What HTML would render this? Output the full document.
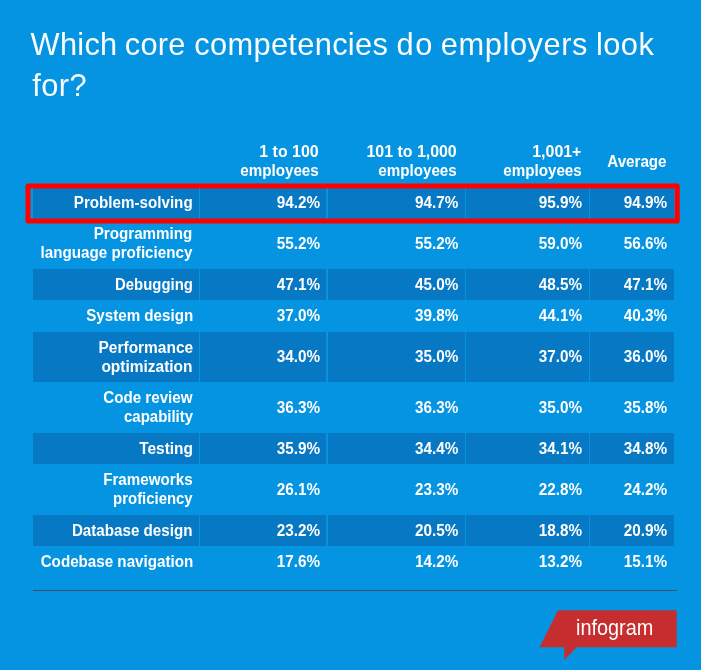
<!DOCTYPE html>
<html lang="en">
<head>
<meta charset="utf-8">
<title>Which core competencies do employers look for?</title>
<style>
html,body{margin:0;padding:0;}
body{width:701px;height:670px;background:#0594e2;overflow:hidden;position:relative;font-family:"Liberation Sans",sans-serif;}
.title{position:absolute;left:30.66px;top:24px;margin:0;font-weight:400;font-size:30.5px;line-height:41px;color:#fbfdff;white-space:nowrap;transform:translateX(-0.4px) scaleX(1.0096);transform-origin:0 0;letter-spacing:.4px;}
.title .w1{letter-spacing:0.25px;word-spacing:-1.47px;}
.title .w2{letter-spacing:0.25px;word-spacing:-0.14px;}
.title .w3{letter-spacing:0.32px;word-spacing:-0.68px;}
.title .w4{letter-spacing:1.6px;word-spacing:-3.17px;}
.title .w5{letter-spacing:0.57px;word-spacing:-1.31px;}
.title .w6{letter-spacing:0.5px;word-spacing:0px;}
.title .l2{margin-left:1.7px;}
.grid{position:absolute;left:33px;top:0;width:641px;height:670px;color:#fff;font-weight:700;font-size:16px;line-height:19px;}
.row{position:absolute;left:0;width:641px;}
.row.dark{background:#0778c4;}
.c{position:absolute;top:0;height:100%;display:flex;align-items:center;justify-content:flex-end;text-align:right;white-space:nowrap;}
.c span{display:block;position:relative;top:-0.5px;transform-origin:100% 50%;}
.c.h{flex-direction:column;justify-content:center;align-items:flex-end;}
.c.h span{transform:scaleX(0.948);}
.c1 span{transform:translateX(0.3px) scaleX(0.948);}
.c.h span.n{transform:scaleX(0.995);}
.c.h.one span{top:.5px;}
.c.two{flex-direction:column;justify-content:center;align-items:flex-end;}
.c1{left:0;width:159.5px;}
.c2{left:167px;width:119.75px;}
.c2 span{transform:translateX(0.6px) scaleX(0.955);}
.c2.h{width:118.5px;}
.c3{left:294.3px;width:130.7px;}
.c3 span{transform:translateX(0px) scaleX(0.955);}
.c3.h{width:129.2px;}
.c4{left:433px;width:115.7px;}
.c4 span{transform:translateX(0.6px) scaleX(0.955);}
.c4.h{width:115.5px;}
.c5{left:557px;width:76.85px;}
.c5 span{transform:translateX(0.7px) scaleX(0.955);}
.c5.h{width:76.5px;}
.c1 span.k1{transform:translateX(0.3px) scaleX(0.9309);}
.c1 span.k2{transform:translateX(0.3px) scaleX(0.9319);}
.c1 span.k3{transform:translateX(0.3px) scaleX(0.9366);}
.c1 span.k4{transform:translateX(0.3px) scaleX(0.966);}
.c1 span.k5{transform:translateX(0.3px) scaleX(0.967);}
.r1{top:187px;height:32px;}
.r2{top:219px;height:50px;}
.r3{top:269px;height:31px;}
.r4{top:300px;height:32px;}
.r5{top:332px;height:50px;}
.r6{top:382px;height:51px;}
.r7{top:433px;height:31px;}
.r8{top:464px;height:51px;}
.r9{top:515px;height:31px;}
.r10{top:546px;height:31px;}
.r2 .c1 span{top:-1.5px;}
.r0{top:135px;height:52px;}
.sep{position:absolute;top:0;width:1px;height:100%;background:#0594e2;}
.s1{left:166px;}.s2{left:293px;width:2px;}.s3{left:432px;}.s4{left:556px;}
.overlay{position:absolute;left:0;top:0;}
</style>
</head>
<body>
<h1 class="title"><span class="w1">Which </span><span class="w2">core </span><span class="w3">competencies </span><span class="w4">do </span><span class="w5">employers </span><span class="w6">look</span><br><span class="l2">for?</span></h1>
<div class="grid">
<div class="row r0">
  <div class="c h c2"><span class="n">1 to 100</span><span>employees</span></div>
  <div class="c h c3"><span class="n">101 to 1,000</span><span>employees</span></div>
  <div class="c h c4"><span class="n">1,001+</span><span>employees</span></div>
  <div class="c h c5 one"><span>Average</span></div>
</div>
<div class="row r1 dark">
  <div class="c c1"><span>Problem-solving</span></div>
  <div class="c c2"><span>94.2%</span></div>
  <div class="c c3"><span>94.7%</span></div>
  <div class="c c4"><span>95.9%</span></div>
  <div class="c c5"><span>94.9%</span></div>
  <i class="sep s1"></i><i class="sep s2"></i><i class="sep s3"></i><i class="sep s4"></i>
</div>
<div class="row r2">
  <div class="c c1 two"><span>Programming</span><span>language proficiency</span></div>
  <div class="c c2"><span>55.2%</span></div>
  <div class="c c3"><span>55.2%</span></div>
  <div class="c c4"><span>59.0%</span></div>
  <div class="c c5"><span>56.6%</span></div>
</div>
<div class="row r3 dark">
  <div class="c c1"><span class="k1">Debugging</span></div>
  <div class="c c2"><span>47.1%</span></div>
  <div class="c c3"><span>45.0%</span></div>
  <div class="c c4"><span>48.5%</span></div>
  <div class="c c5"><span>47.1%</span></div>
  <i class="sep s1"></i><i class="sep s2"></i><i class="sep s3"></i><i class="sep s4"></i>
</div>
<div class="row r4">
  <div class="c c1"><span>System design</span></div>
  <div class="c c2"><span>37.0%</span></div>
  <div class="c c3"><span>39.8%</span></div>
  <div class="c c4"><span>44.1%</span></div>
  <div class="c c5"><span>40.3%</span></div>
</div>
<div class="row r5 dark">
  <div class="c c1 two"><span class="k5">Performance</span><span class="k5">optimization</span></div>
  <div class="c c2"><span>34.0%</span></div>
  <div class="c c3"><span>35.0%</span></div>
  <div class="c c4"><span>37.0%</span></div>
  <div class="c c5"><span>36.0%</span></div>
  <i class="sep s1"></i><i class="sep s2"></i><i class="sep s3"></i><i class="sep s4"></i>
</div>
<div class="row r6">
  <div class="c c1 two"><span>Code review</span><span class="k3">capability</span></div>
  <div class="c c2"><span>36.3%</span></div>
  <div class="c c3"><span>36.3%</span></div>
  <div class="c c4"><span>35.0%</span></div>
  <div class="c c5"><span>35.8%</span></div>
</div>
<div class="row r7 dark">
  <div class="c c1"><span class="k4">Testing</span></div>
  <div class="c c2"><span>35.9%</span></div>
  <div class="c c3"><span>34.4%</span></div>
  <div class="c c4"><span>34.1%</span></div>
  <div class="c c5"><span>34.8%</span></div>
  <i class="sep s1"></i><i class="sep s2"></i><i class="sep s3"></i><i class="sep s4"></i>
</div>
<div class="row r8">
  <div class="c c1 two"><span>Frameworks</span><span class="k2">proficiency</span></div>
  <div class="c c2"><span>26.1%</span></div>
  <div class="c c3"><span>23.3%</span></div>
  <div class="c c4"><span>22.8%</span></div>
  <div class="c c5"><span>24.2%</span></div>
</div>
<div class="row r9 dark">
  <div class="c c1"><span>Database design</span></div>
  <div class="c c2"><span>23.2%</span></div>
  <div class="c c3"><span>20.5%</span></div>
  <div class="c c4"><span>18.8%</span></div>
  <div class="c c5"><span>20.9%</span></div>
  <i class="sep s1"></i><i class="sep s2"></i><i class="sep s3"></i><i class="sep s4"></i>
</div>
<div class="row r10">
  <div class="c c1"><span>Codebase navigation</span></div>
  <div class="c c2"><span>17.6%</span></div>
  <div class="c c3"><span>14.2%</span></div>
  <div class="c c4"><span>13.2%</span></div>
  <div class="c c5"><span>15.1%</span></div>
</div>
</div>
<svg class="overlay" width="701" height="670" viewBox="0 0 701 670">
<rect x="33" y="590" width="644" height="1" fill="#4a4e54"/>
<polygon points="558,610.3 676.7,610.3 676.7,647.3 576.8,647.3 564.2,660 564.2,647.3 539.5,647.3" fill="#c52d2f"/>
<text x="576" y="634.7" textLength="77.3" lengthAdjust="spacingAndGlyphs" font-family="Liberation Sans, sans-serif" font-size="22" fill="#fff">infogram</text>
<rect x="28" y="186" width="649.2" height="35" fill="none" stroke="#ff0000" stroke-width="5" stroke-linejoin="round"/>
</svg>
</body>
</html>
